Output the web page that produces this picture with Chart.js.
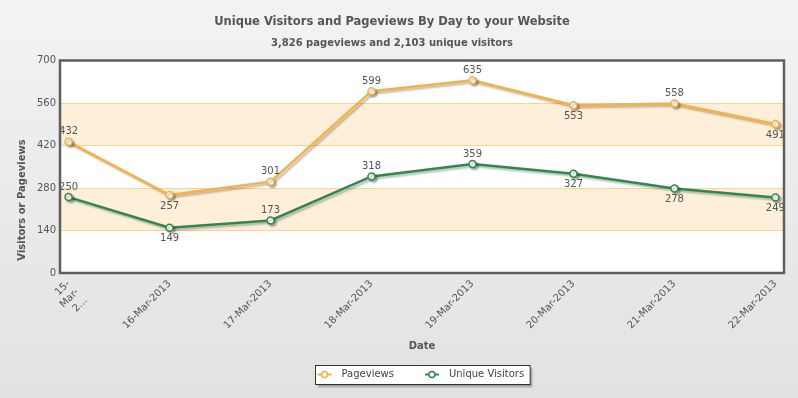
<!DOCTYPE html>
<html><head><meta charset="utf-8">
<script src="https://cdn.jsdelivr.net/npm/chart.js@4.4.0/dist/chart.umd.min.js"></script>
<style>html,body{margin:0;padding:0;background:#ececec;overflow:hidden}</style>
</head><body>
<canvas id="c" width="798" height="398" style="display:block;width:798px;height:398px"></canvas>
<script>
const categories = ['15-Mar-2013','16-Mar-2013','17-Mar-2013','18-Mar-2013','19-Mar-2013','20-Mar-2013','21-Mar-2013','22-Mar-2013'];
const tickLabels = [['15-','Mar-','2...'],'16-Mar-2013','17-Mar-2013','18-Mar-2013','19-Mar-2013','20-Mar-2013','21-Mar-2013','22-Mar-2013'];
const pageviews = [432,257,301,599,635,553,558,491];
const visitors = [250,149,173,318,359,327,278,249];
const yTicks = [0,140,280,420,560,700];
const seriesNames = ['Pageviews','Unique Visitors'];
const titleText = 'Unique Visitors and Pageviews By Day to your Website';
const subtitleText = '3,826 pageviews and 2,103 unique visitors';
const xTitle = 'Date';
const yTitle = 'Visitors or Pageviews';

const FONT = "'DejaVu Sans', Verdana, sans-serif";
const ORANGE = '#f8b13e';
const GREEN = '#2e8a4c';
const TEXT = '#555555';

function toPoints(arr){ return arr.map((v,i)=>({x:i,y:v})); }

const bgPlugin = {
  id:'bg',
  beforeDraw(chart){
    const {ctx, chartArea:a, scales:{y}} = chart;
    ctx.save();
    const g = ctx.createLinearGradient(0,0,0,chart.height);
    g.addColorStop(0,'#f3f3f3'); g.addColorStop(1,'#e2e2e2');
    ctx.fillStyle = g; ctx.fillRect(0,0,chart.width,chart.height);
    ctx.fillStyle = '#ffffff';
    ctx.fillRect(a.left,a.top,a.right-a.left,a.bottom-a.top);
    ctx.fillStyle = '#feefd9';
    for (let i=1;i<yTicks.length-1;i+=2){
      const t = y.getPixelForValue(yTicks[i+1]), b = y.getPixelForValue(yTicks[i]);
      ctx.fillRect(a.left,t,a.right-a.left,b-t);
    }
    ctx.restore();
  },
  beforeDatasetDraw(chart){
    const ctx = chart.ctx; ctx.save();
    ctx.shadowColor='rgba(0,0,0,0.28)'; ctx.shadowOffsetX=2; ctx.shadowOffsetY=2; ctx.shadowBlur=2;
  },
  afterDatasetDraw(chart){ chart.ctx.restore(); },
  afterDatasetsDraw(chart){
    const {ctx, chartArea:a} = chart;
    ctx.save();
    ctx.strokeStyle='#5e5e5e'; ctx.lineWidth=2.5;
    ctx.strokeRect(a.left,a.top,a.right-a.left,a.bottom-a.top);
    ctx.beginPath(); ctx.rect(a.left+1,a.top+1,a.right-a.left-2,a.bottom-a.top-2); ctx.clip();
    ctx.font = '10px '+FONT; ctx.fillStyle = TEXT; ctx.textAlign='center';
    chart.data.datasets.forEach((ds,di)=>{
      const meta = chart.getDatasetMeta(di);
      meta.data.forEach((pt,i)=>{
        const v = ds.data[i].y;
        const below = i>0 && v < ds.data[i-1].y;
        if (below){ ctx.textBaseline='top'; ctx.fillText(String(v), pt.x, pt.y+6); }
        else { ctx.textBaseline='bottom'; ctx.fillText(String(v), pt.x, pt.y-5); }
      });
    });
    ctx.restore();
  },
  afterDraw(chart){
    const {ctx, chartArea:a} = chart;
    ctx.save();
    // y axis title
    ctx.font = 'bold 10px '+FONT; ctx.fillStyle = TEXT;
    ctx.translate(22,200); ctx.rotate(-Math.PI/2);
    ctx.textAlign='center'; ctx.textBaseline='middle';
    ctx.fillText(yTitle,0,0);
    ctx.restore();
    // legend
    ctx.save();
    ctx.font = '10px '+FONT;
    const items = chart.data.datasets.map(d=>({text:d.label,color:d.borderColor}));
    const mw=14, gap1=10, gap2=31, lp=2, rp=6;
    let w = lp+rp;
    items.forEach((it,i)=>{ it.w = ctx.measureText(it.text).width; w += mw+gap1+it.w + (i>0?gap2:0); });
    const cx = (a.left+a.right)/2, cy = 374.5, h = 19;
    const bx = Math.round(cx - w/2)+0.5, by = Math.round(cy - h/2)+0.5;
    ctx.shadowColor='rgba(0,0,0,0.35)'; ctx.shadowOffsetX=2; ctx.shadowOffsetY=2; ctx.shadowBlur=2;
    ctx.fillStyle='#ffffff'; ctx.fillRect(bx,by,w,h);
    ctx.shadowColor='transparent';
    ctx.strokeStyle='#333333'; ctx.lineWidth=1; ctx.strokeRect(bx,by,w,h);
    let x = bx+lp;
    items.forEach((it,i)=>{
      if (i>0) x += gap2;
      ctx.strokeStyle=it.color; ctx.lineWidth=2;
      ctx.beginPath(); ctx.moveTo(x,cy); ctx.lineTo(x+mw,cy); ctx.stroke();
      ctx.beginPath(); ctx.arc(x+mw/2,cy,3,0,Math.PI*2); ctx.fillStyle='#fff'; ctx.fill();
      ctx.lineWidth=1.5; ctx.stroke();
      x += mw+gap1;
      ctx.fillStyle='#444'; ctx.textAlign='left'; ctx.textBaseline='middle';
      ctx.fillText(it.text,x,cy);
      x += it.w;
    });
    ctx.restore();
  }
};

const mkDs = (label, data, color) => ({
  label, data: toPoints(data), borderColor: color, backgroundColor: color,
  borderWidth: 2.5, pointRadius: 3.5, pointHoverRadius: 3.5, pointBackgroundColor:'#ffffff',
  pointBorderColor: color, pointBorderWidth: 1.5, tension: 0, fill:false, clip: false
});

new Chart(document.getElementById('c'), {
  type:'line',
  data:{ datasets:[ mkDs(seriesNames[0], pageviews, ORANGE), mkDs(seriesNames[1], visitors, GREEN) ] },
  options:{
    responsive:false, animation:false, devicePixelRatio:1,
    layout:{ padding:{ left:0, right:14, top:0, bottom:40 } },
    plugins:{
      legend:{ display:false }, tooltip:{ enabled:false },
      title:{ display:true, text:titleText, color:TEXT, font:{family:FONT,size:11.5,weight:'bold',lineHeight:1}, padding:{top:16,bottom:0} },
      subtitle:{ display:true, text:subtitleText, color:TEXT, font:{family:FONT,size:10,weight:'bold',lineHeight:1}, padding:{top:11,bottom:12} }
    },
    scales:{
      x:{
        type:'linear', min:-0.085, max:categories.length-1+0.085,
        afterBuildTicks(s){ s.ticks = categories.map((_,i)=>({value:i})); },
        afterFit(s){ s.height = 85; },
        grid:{ display:false, drawTicks:false }, border:{ display:false },
        ticks:{ autoSkip:false, minRotation:45, maxRotation:45, padding:5, color:TEXT,
          font:{family:FONT,size:10},
          callback:(v)=>tickLabels[v] },
        title:{ display:true, text:xTitle, color:TEXT, font:{family:FONT,size:10,weight:'bold',lineHeight:1.2}, padding:{top:0,bottom:6} }
      },
      y:{
        min:yTicks[0], max:yTicks[yTicks.length-1],
        afterBuildTicks(s){ s.ticks = yTicks.map(v=>({value:v})); },
        afterFit(s){ s.width = 60; },
        grid:{ drawTicks:false, lineWidth:1, color:(c)=> (c.tick && (c.tick.value===yTicks[0]||c.tick.value===yTicks[yTicks.length-1])) ? 'rgba(0,0,0,0)' : '#fdd38f' },
        border:{ display:false },
        ticks:{ padding:4, color:TEXT, font:{family:FONT,size:10} }
      }
    }
  },
  plugins:[bgPlugin]
});
</script>
</body></html>
